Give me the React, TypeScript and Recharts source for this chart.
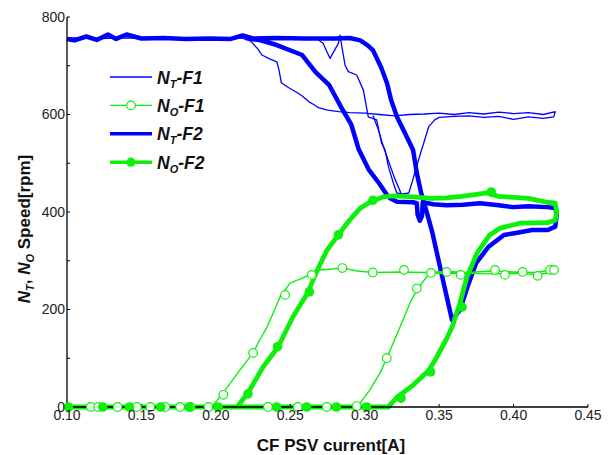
import { ComposedChart, Line, Scatter, XAxis, YAxis } from "recharts";

type Pt = [number, number];
const rows = (pts: Pt[]) => pts.map(([x, y]) => ({ x, y }));

// N_T - F1 (thin blue), main loop + one short branch
const ntF1Main: Pt[] = [
  [0.1, 756], [0.11, 758], [0.12, 755], [0.135, 757], [0.15, 756], [0.17, 757], [0.19, 755],
  [0.205, 757], [0.215, 758], [0.222, 753], [0.2245, 747], [0.228, 735], [0.231, 722],
  [0.236, 714], [0.241, 708], [0.2425, 690], [0.244, 665], [0.249, 655], [0.2545, 645],
  [0.258, 638], [0.2626, 626], [0.266, 620], [0.269, 614], [0.275, 609], [0.2826, 606],
  [0.29, 604], [0.3, 603], [0.31, 600], [0.32, 597], [0.33, 600], [0.34, 601], [0.35, 603],
  [0.36, 600], [0.37, 604], [0.38, 601], [0.39, 605], [0.4, 602], [0.41, 604], [0.42, 600],
  [0.428, 606], [0.427, 595], [0.42, 592], [0.41, 595], [0.4, 590], [0.39, 596], [0.38, 594],
  [0.37, 597], [0.36, 596], [0.35, 594], [0.347, 589], [0.343, 575], [0.34, 545],
  [0.336, 505], [0.3323, 466], [0.3296, 439], [0.3255, 437], [0.3215, 439], [0.3193, 459],
  [0.3159, 493], [0.3137, 527], [0.3114, 541], [0.308, 589], [0.3024, 595], [0.3013, 613],
  [0.2991, 650], [0.2946, 681], [0.289, 688], [0.2868, 701], [0.2845, 742], [0.2834, 763],
  [0.2823, 746], [0.2767, 715], [0.272, 746], [0.268, 755], [0.25, 756], [0.23, 757],
  [0.2, 756], [0.15, 757], [0.1, 757],
];
const ntF1Branch: Pt[] = [
  [0.3055, 598], [0.309, 570], [0.313, 530], [0.3165, 500], [0.32, 470], [0.3243, 439],
];

// N_T - F2 (thick blue)
const ntF2: Pt[] = [
  [0.1, 755], [0.105, 752], [0.113, 760], [0.12, 753], [0.1275, 764], [0.133, 755],
  [0.14, 764], [0.15, 756], [0.165, 757], [0.18, 755], [0.195, 756], [0.21, 755],
  [0.218, 762], [0.225, 756], [0.24, 757], [0.26, 756], [0.28, 756], [0.29, 757],
  [0.297, 752], [0.302, 742], [0.3055, 732], [0.311, 697], [0.315, 664], [0.3177, 630],
  [0.3217, 595], [0.327, 562], [0.3325, 527], [0.335, 480], [0.338, 438], [0.34, 418],
  [0.3455, 357], [0.3506, 287], [0.3546, 233], [0.3587, 178], [0.364, 199], [0.369, 246],
  [0.3748, 295], [0.383, 328], [0.3935, 353], [0.4016, 357], [0.4124, 363], [0.423, 363],
  [0.428, 370], [0.429, 395], [0.428, 408], [0.4225, 410], [0.41, 412], [0.3996, 410],
  [0.39, 414], [0.3775, 418], [0.366, 415], [0.355, 414], [0.346, 416], [0.339, 420],
  [0.3385, 392], [0.337, 382], [0.3355, 395], [0.335, 418], [0.3325, 420], [0.3217, 421],
  [0.317, 428], [0.315, 435], [0.3094, 460], [0.3027, 487], [0.296, 528], [0.291, 579],
  [0.2847, 612], [0.276, 661], [0.267, 687], [0.258, 722], [0.2405, 743], [0.23, 752],
  [0.22, 757],
];

// N_O - F1 (thin green)
const noF1: Pt[] = [
  [0.1, 0], [0.15, 0], [0.1974, 2], [0.2005, 12], [0.2048, 29], [0.21, 50], [0.2162, 76],
  [0.221, 95], [0.225, 111], [0.2295, 138], [0.2344, 164], [0.239, 196], [0.2432, 226],
  [0.2498, 254], [0.256, 262], [0.2633, 271], [0.27, 281], [0.2854, 285], [0.295, 279],
  [0.3055, 276], [0.3257, 277], [0.34, 276], [0.355, 278], [0.37, 276], [0.385, 279],
  [0.4, 277], [0.415, 276], [0.4245, 281], [0.428, 284], [0.427, 276], [0.415, 272],
  [0.4, 274], [0.385, 273], [0.37, 274], [0.355, 275], [0.345, 274], [0.3416, 267],
  [0.335, 240], [0.3304, 213], [0.3237, 164], [0.3148, 100], [0.3103, 70], [0.3035, 35],
  [0.2968, 8], [0.2934, 0], [0.25, 0], [0.1, 0],
];
const noF1Marks: Pt[] = [
  [0.116, 0], [0.121, 0], [0.134, 0], [0.147, 0], [0.156, 0], [0.166, 0], [0.176, 0],
  [0.183, 0], [0.195, 0], [0.235, 0], [0.255, 0], [0.2745, 0], [0.2947, 2],
  [0.205, 25], [0.225, 111], [0.2465, 230], [0.2644, 271], [0.285, 285], [0.3054, 276],
  [0.3264, 281], [0.3445, 275], [0.355, 277], [0.3645, 271], [0.3875, 281], [0.3942, 271],
  [0.4061, 277], [0.4162, 269], [0.4245, 281], [0.4272, 281], [0.335, 243], [0.3148, 100],
];

// N_O - F2 (thick green)
const noF2: Pt[] = [
  [0.1, 0], [0.2142, 0], [0.2216, 29], [0.2317, 82], [0.2418, 123], [0.2518, 185],
  [0.262, 236], [0.268, 280], [0.2747, 322], [0.2823, 353], [0.29, 384], [0.297, 408],
  [0.3035, 420], [0.3123, 431], [0.32, 433], [0.3325, 431], [0.345, 428], [0.355, 429],
  [0.365, 432], [0.375, 436], [0.382, 439], [0.39, 432], [0.4, 430], [0.41, 428],
  [0.4225, 420], [0.428, 418], [0.429, 400], [0.428, 383], [0.4225, 378], [0.404, 377],
  [0.391, 367], [0.384, 353], [0.3755, 316], [0.3687, 267], [0.364, 213], [0.3587, 164],
  [0.355, 140], [0.348, 100], [0.343, 75], [0.3325, 45], [0.3217, 20], [0.317, 4],
  [0.316, 0], [0.1, 0],
];
const noF2Marks: Pt[] = [
  [0.101, 0], [0.124, 0], [0.142, 0], [0.163, 0], [0.182, 0], [0.2015, 0], [0.2408, 0],
  [0.261, 0], [0.281, 0], [0.3013, 0], [0.2216, 27], [0.2415, 124], [0.2628, 236],
  [0.2823, 353], [0.3055, 424], [0.385, 441], [0.3654, 205], [0.3442, 72], [0.3244, 18],
];

const xTicks = [0.1, 0.15, 0.2, 0.25, 0.3, 0.35, 0.4, 0.45];
const yTicks = [0, 100, 200, 300, 400, 500, 600, 700, 800];

const legendItems = [
  { sub: "T", tail: "-F1", kind: "thinBlue" },
  { sub: "O", tail: "-F1", kind: "thinGreen" },
  { sub: "T", tail: "-F2", kind: "thickBlue" },
  { sub: "O", tail: "-F2", kind: "thickGreen" },
];

const BLUE = "#0000ff";
const GREEN = "#0cf00c";
const FONT = "'Liberation Sans', Arial, sans-serif";

const openDot = (p: any) => (
  <circle cx={p.cx} cy={p.cy} r={4.3} fill="#fff" stroke={GREEN} strokeWidth={1.2} />
);
const fullDot = (p: any) => <circle cx={p.cx} cy={p.cy} r={4.8} fill={GREEN} />;

function Overlay() {
  return (
    <svg
      width={615}
      height={455}
      style={{ position: "absolute", left: 0, top: 0, pointerEvents: "none" }}
      fontFamily={FONT}
    >
      {legendItems.map((it, i) => {
        const y = 77 + i * 28.4;
        const thick = it.kind.startsWith("thick");
        const color = it.kind.endsWith("Blue") ? BLUE : GREEN;
        return (
          <g key={i}>
            <line x1={110} x2={152} y1={y} y2={y} stroke={color} strokeWidth={thick ? 3.5 : 1.3} />
            {it.kind === "thinGreen" && (
              <circle cx={131} cy={y} r={4.3} fill="#fff" stroke={GREEN} strokeWidth={1.2} />
            )}
            {it.kind === "thickGreen" && <circle cx={131} cy={y} r={4.6} fill={GREEN} />}
            <text x={157} y={y + 6.5} fontSize={17.5} fontWeight="bold" fontStyle="italic" fill="#111">
              N
              <tspan fontSize={11} dy={4}>{it.sub}</tspan>
              <tspan dy={-4}>{it.tail}</tspan>
            </text>
          </g>
        );
      })}
      <text x={331} y={451} textAnchor="middle" fontSize={17} fontWeight="bold" fill="#111">
        CF PSV current[A]
      </text>
      <text
        transform="translate(30,229) rotate(-90)"
        textAnchor="middle"
        fontSize={17}
        fontWeight="bold"
        fill="#111"
      >
        <tspan fontStyle="italic">N</tspan>
        <tspan fontStyle="italic" fontSize={11} dy={4}>T</tspan>
        <tspan dy={-4}>, </tspan>
        <tspan fontStyle="italic">N</tspan>
        <tspan fontStyle="italic" fontSize={11} dy={4}>O</tspan>
        <tspan dy={-4}> Speed[rpm]</tspan>
      </text>
    </svg>
  );
}

export default function App() {
  const tick = { fill: "#222", fontSize: 14, fontFamily: FONT };
  return (
    <div style={{ position: "absolute", left: 0, top: 0, width: 615, height: 455, background: "#fff" }}>
      <ComposedChart width={615} height={455} margin={{ top: 17, right: 27, bottom: 0, left: 0 }}>
        <XAxis
          dataKey="x"
          type="number"
          domain={[0.1, 0.45]}
          ticks={xTicks}
          tickFormatter={(v: number) => v.toFixed(2)}
          height={48}
          tick={tick}
          tickSize={-3}
          tickMargin={6}
          axisLine={{ stroke: "#000", strokeWidth: 1.3 }}
          tickLine={{ stroke: "#000" }}
        />
        <XAxis
          xAxisId="top"
          orientation="top"
          type="number"
          domain={[0.1, 0.45]}
          height={0}
          tick={false}
          tickLine={false}
          axisLine={{ stroke: "#888", strokeWidth: 1.5 }}
        />
        <YAxis
          type="number"
          domain={[0, 800]}
          ticks={yTicks}
          tickFormatter={(v: number) => (v % 200 === 0 ? String(v) : "")}
          width={67}
          tick={tick}
          tickSize={-3}
          tickMargin={5}
          interval={0}
          axisLine={{ stroke: "#000", strokeWidth: 1.3 }}
          tickLine={{ stroke: "#000" }}
        />
        <YAxis
          yAxisId="right"
          orientation="right"
          type="number"
          domain={[0, 800]}
          width={0}
          tick={false}
          tickLine={false}
          axisLine={{ stroke: "#888", strokeWidth: 1.5 }}
        />
        <Line data={rows(ntF1Main)} dataKey="y" type="linear" stroke={BLUE} strokeWidth={1.3} dot={false} isAnimationActive={false} strokeLinejoin="round" />
        <Line data={rows(ntF1Branch)} dataKey="y" type="linear" stroke={BLUE} strokeWidth={1.3} dot={false} isAnimationActive={false} strokeLinejoin="round" />
        <Line data={rows(ntF2)} dataKey="y" type="linear" stroke={BLUE} strokeWidth={4.5} dot={false} isAnimationActive={false} strokeLinejoin="round" />
        <Line data={rows(noF1)} dataKey="y" type="linear" stroke={GREEN} strokeWidth={1.4} dot={false} isAnimationActive={false} strokeLinejoin="round" />
        <Line data={rows(noF2)} dataKey="y" type="linear" stroke={GREEN} strokeWidth={4.8} dot={false} isAnimationActive={false} strokeLinejoin="round" />
        <Scatter data={rows(noF1Marks)} dataKey="y" shape={openDot} isAnimationActive={false} />
        <Scatter data={rows(noF2Marks)} dataKey="y" shape={fullDot} isAnimationActive={false} />
      </ComposedChart>
      <Overlay />
    </div>
  );
}
